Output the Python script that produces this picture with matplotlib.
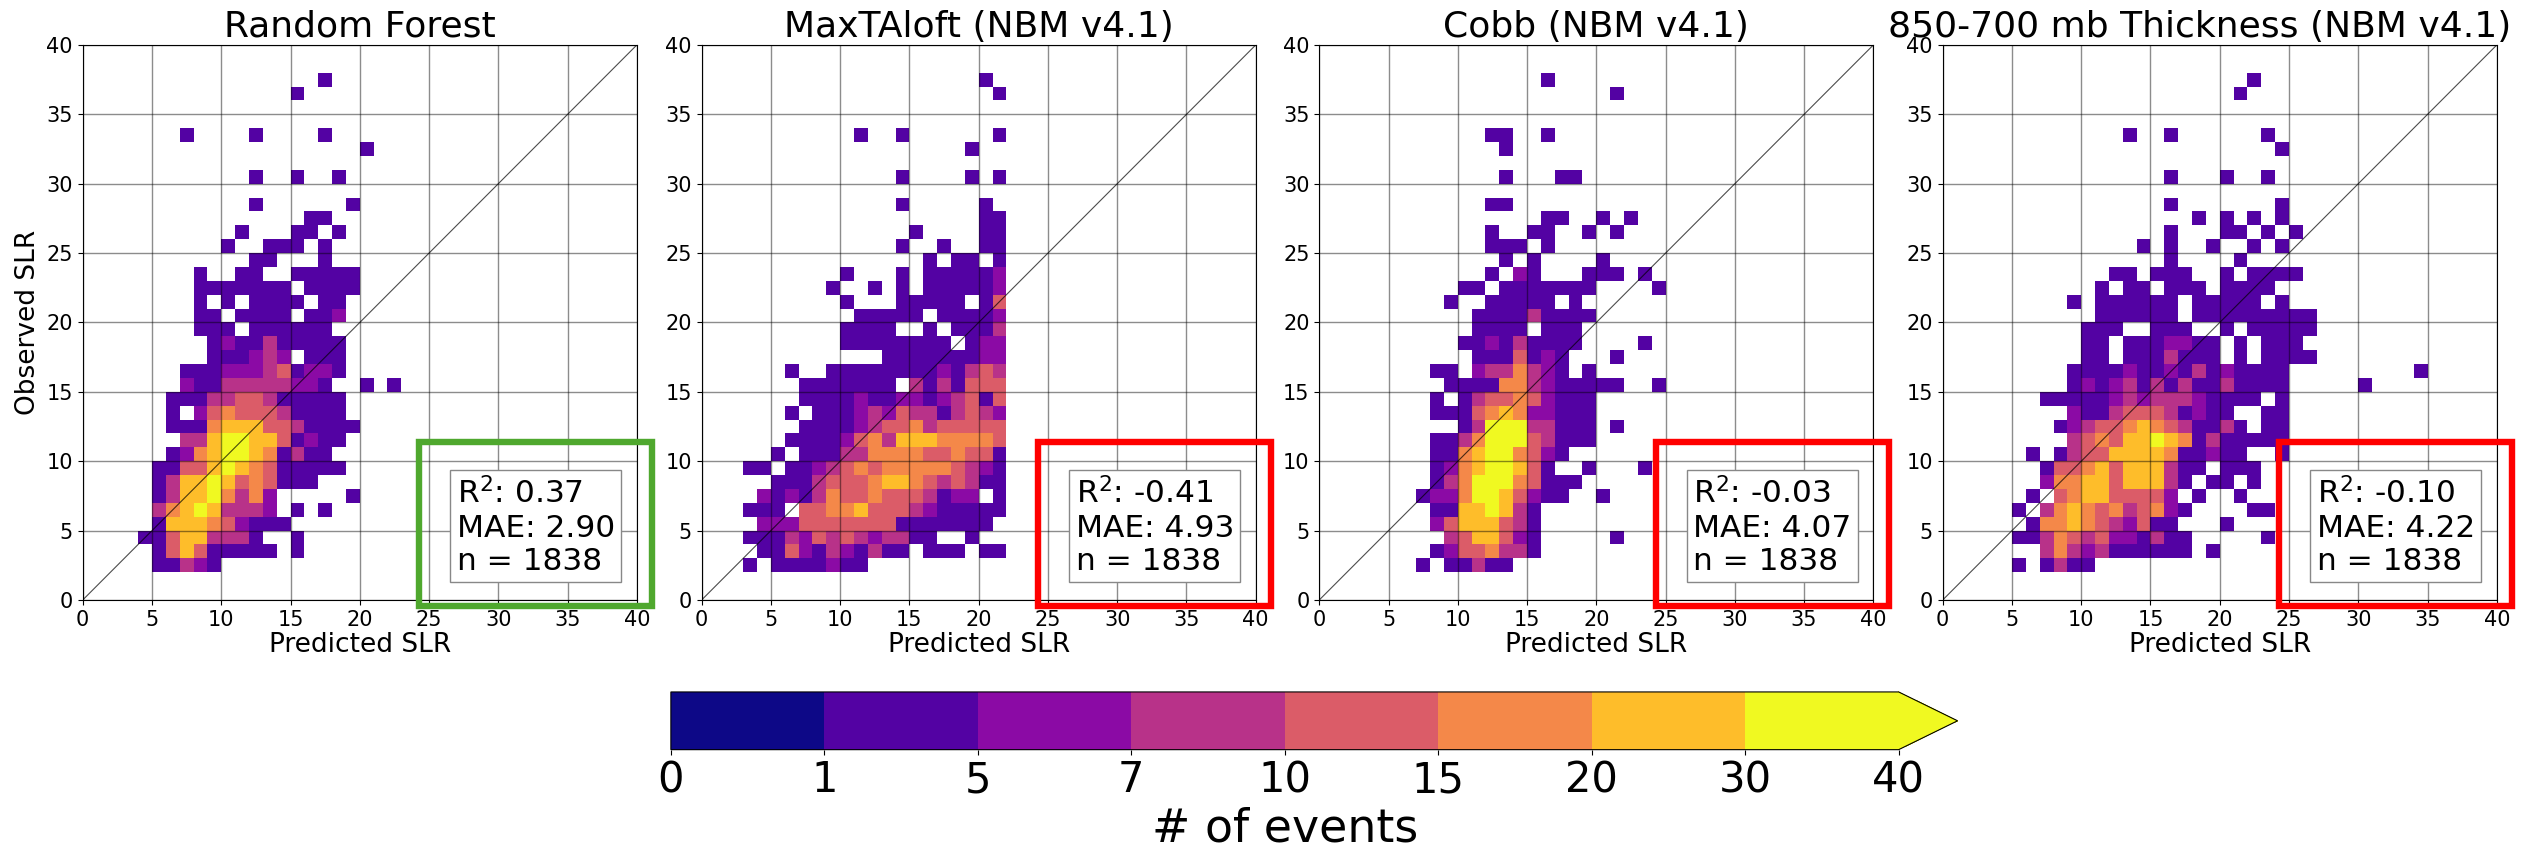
import numpy as np
import matplotlib
matplotlib.use('Agg')
import matplotlib.pyplot as plt
from matplotlib.colors import ListedColormap, BoundaryNorm
from matplotlib.cm import ScalarMappable
from matplotlib.patches import Rectangle

plt.rcParams.update({"font.family": "DejaVu Sans"})

# ── Data ───────────────────────────────────────────────────────────────────
TITLES = ["Random Forest", "MaxTAloft (NBM v4.1)", "Cobb (NBM v4.1)",
          "850-700 mb Thickness (NBM v4.1)"]
R2 = ["0.37", "-0.41", "-0.03", "-0.10"]
MAE = ["2.90", "4.93", "4.07", "4.22"]
N_EVENTS = 1838
BOX_COLORS = ["#4fa82e", "#ff0000", "#ff0000", "#ff0000"]

BOUNDS = [0, 1, 5, 7, 10, 15, 20, 30, 40]
# estimated count for each colour class seen in the cells ('1' = 1-5 ... '7' = 30+)
LEVEL_COUNTS = [3, 6, 8, 12, 17, 25, 35]

# 1-unit bins; rows run from y=37 down to y=2, one character per x bin from x=0
RF_ROWS = [
    ".................1",
    "...............1",
    "",
    "",
    ".......1....1....1",
    "....................1",
    "",
    "............1..1..1",
    "",
    "............1......1",
    "................11",
    "...........1...11.1",
    "..........1..111.1",
    "............11...1",
    "........1..11..11111",
    "........1111111.1111",
    "........1.1.1111.11",
    "........11.1111.112",
    "........111.111111",
    ".........1211311111",
    ".........111232.111",
    ".......111222341221",
    ".......21133333221..1.1",
    "......1113344311111",
    "......1.24544431111",
    "......11156664431111",
    ".......336776641211",
    "......125677651311",
    ".....11446765411111",
    ".....136676454111",
    ".....136675352.....1",
    ".....356763332.1.1",
    ".....1666542111",
    "....114663331..1",
    ".....146411111.1",
    ".....11321",
]

MAXT_ROWS = [
    "....................1",
    ".....................1",
    "",
    "",
    "...........1..1......1",
    "...................1",
    "",
    "..............1....1.1",
    "",
    "..............1.....1",
    "....................11",
    "...............1....11",
    "..............1..1..11",
    "................1.11.1",
    "..........1...1.111112",
    ".........1..1.1.111112",
    "..........1...11111.14",
    "...........11111.11112",
    "..........1111..1.1113",
    "..........11111111.122",
    ".............111111122",
    "......1..1111111121343",
    ".......1111111.3131444",
    ".......111121122123414",
    "......1.11123243313432",
    ".......111123445344444",
    "......1111245366655554",
    ".....1.111335555445441",
    "...11.1123454555554321",
    ".....11134445665434311",
    "....2121354454443122.1",
    "...111.445564443211111",
    "....22244444441111111",
    "...11132434323311..1",
    "....11421321311.111.11",
    "...1.1111211",
]

COBB_ROWS = [
    "................1",
    ".....................1",
    "",
    "",
    "............11..1",
    ".............1",
    "",
    ".............1...11",
    "",
    "............11",
    "................11..1.1",
    "............1..11..1.1",
    "............111.1",
    ".............1.1....1",
    "............1.21...111.1",
    "..........11.1111111....1",
    ".........1..11111.1",
    "...........111131111",
    "...........1111.111",
    "..........112131111....1",
    "...........1114121...1",
    "........11.2335321.1",
    ".........1111553211111..1",
    "........1.1344542111",
    "........111456522111",
    "..........1377733111.1",
    "........113577743111",
    "........1156775421",
    "........125677641..1...1",
    "........13577754111",
    ".......12257764211..1",
    "........11667631",
    "........24666431",
    ".........3466421.....1",
    "........12445331",
    ".......1.11311",
]

THICK_ROWS = [
    "......................1",
    ".....................1",
    "",
    "",
    ".............1..1......1",
    "........................1",
    "",
    "................1...1..1",
    "",
    "................1.......1",
    "..................1.1.1.1",
    "................1...11.1.1",
    "..............1.1..1..1.1",
    "................1....1",
    "............11.111..1.1111",
    "...........1.11.111.1111",
    ".........1.111111.11111.1",
    "...........111111.111111111",
    "..........111..111..1.11111",
    "..........11.1112211.1.111",
    "..........11.1113111.1.1111",
    ".........1111211213121111.........1",
    ".........1212313131131111.....1",
    ".......1111123233321111.1",
    ".........211344431211..11",
    "........12344565431131.11",
    ".........3454667651311111",
    "......1.13446666511211..1",
    ".......144564666311.111",
    ".......25566466631.11.1",
    "......1.456644442.1..1",
    ".....1.35654534521....11",
    "......15565432411...1",
    ".....1135434221311.....1",
    ".......35323111111.1",
    ".....1.1311",
]

PANELS = [RF_ROWS, MAXT_ROWS, COBB_ROWS, THICK_ROWS]


def to_grid(rows, top=37, size=40):
    grid = np.full((size, size), np.nan)
    for i, row in enumerate(rows):
        y = top - i
        for x, ch in enumerate(row):
            if ch != ".":
                grid[y, x] = LEVEL_COUNTS[int(ch) - 1]
    return np.ma.masked_invalid(grid)


# ── Style ──────────────────────────────────────────────────────────────────
plasma = plt.get_cmap("plasma")
cols = plasma(np.linspace(0, 1, len(BOUNDS) - 1))
cmap = ListedColormap(cols)
cmap.set_over(cols[-1])
norm = BoundaryNorm(BOUNDS, cmap.N)

fig = plt.figure(figsize=(25.22, 8.49), dpi=100)
lefts = [0.0328, 0.2782, 0.5231, 0.7703]
title_x = [0.5, 0.5, 0.5, 0.463]
edges = np.arange(0, 41)

for i, ax_left in enumerate(lefts):
    ax = fig.add_axes([ax_left, 0.2933, 0.2197, 0.6537])
    ax.pcolormesh(edges, edges, to_grid(PANELS[i]), cmap=cmap, norm=norm)
    ax.plot([0, 40], [0, 40], color="k", lw=0.8, alpha=0.7)
    ax.set_xlim(0, 40)
    ax.set_ylim(0, 40)
    ax.set_xticks(range(0, 41, 5))
    ax.set_yticks(range(0, 41, 5))
    ax.tick_params(labelsize=15)
    ax.grid(True, color="k", alpha=0.45, lw=1.0)
    ax.set_axisbelow(False)
    ax.set_title(TITLES[i], fontsize=26, pad=6, x=title_x[i])
    ax.set_xlabel("Predicted SLR", fontsize=19, labelpad=2)
    if i == 0:
        ax.set_ylabel("Observed SLR", fontsize=19, labelpad=4)

    ax.text(0.675, 0.043, f"R$^2$: {R2[i]}\nMAE: {MAE[i]}\nn = {N_EVENTS}",
            transform=ax.transAxes, fontsize=22.5, ha="left", va="bottom",
            bbox=dict(boxstyle="square,pad=0.2", facecolor="white",
                      edgecolor="#888888", lw=1.0))
    ax.add_patch(Rectangle((24.3, -0.4), 16.8, 11.8, fill=False,
                           edgecolor=BOX_COLORS[i], lw=4.6, clip_on=False,
                           zorder=10))

# ── Colorbar ───────────────────────────────────────────────────────────────
cax = fig.add_axes([0.266, 0.117, 0.5102, 0.068])
sm = ScalarMappable(norm=norm, cmap=cmap)
cb = fig.colorbar(sm, cax=cax, orientation="horizontal", extend="max",
                  ticks=BOUNDS, spacing="uniform", extendfrac=0.048)
cb.ax.tick_params(labelsize=30)
cb.set_label("# of events", fontsize=33)

plt.savefig("out.png", dpi=100)
plt.close()
